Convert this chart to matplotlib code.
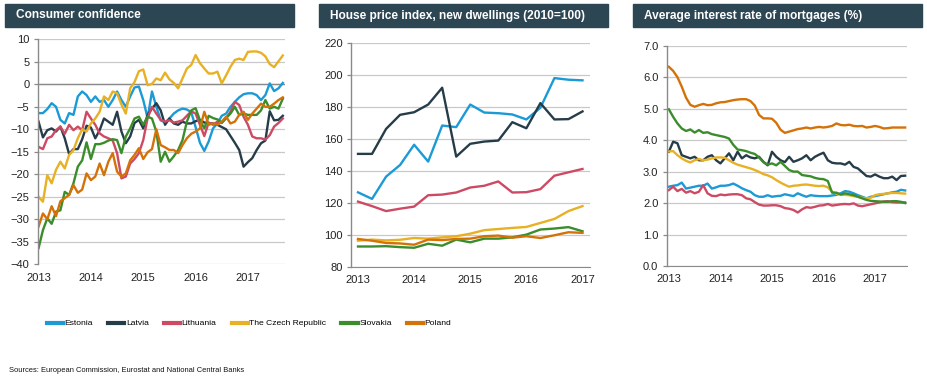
import numpy as np
import matplotlib
matplotlib.use("Agg")
import matplotlib.pyplot as plt
from matplotlib.patches import Rectangle
from matplotlib.lines import Line2D

plt.rcParams['font.family'] = ['Liberation Sans', 'DejaVu Sans']

countries = ['Estonia', 'Latvia', 'Lithuania', 'The Czech Republic', 'Slovakia', 'Poland']
colors = ['#1b9ad6', '#263d49', '#cc4a64', '#e8b023', '#3b8d2c', '#d47208']
years = ['2013', '2014', '2015', '2016', '2017']

# Consumer confidence, monthly Jan 2013 - Sep 2017
cc_estonia = [-6.4, -6.4, -5.5, -4.2, -5.0, -7.9, -8.7, -6.4, -6.8, -2.7, -1.6, -2.4, -3.9, -2.7, -3.9,
              -3.5, -5.0, -3.5, -1.6, -3.5, -5.0, -2.7, -0.7, -0.5, -3.5, -7.5, -1.6, -5.0, -8.0, -8.5,
              -7.6, -6.5, -5.8, -5.4, -5.6, -6.2, -9.5, -13.0, -14.8, -12.7, -9.8, -8.7, -7.0, -6.5,
              -5.0, -3.9, -2.9, -2.2, -2.0, -2.0, -2.4, -3.5, -2.4, 0.2, -1.5, -0.9, 0.3]
cc_latvia = [-8.3, -11.8, -10.2, -9.8, -10.5, -9.4, -12.0, -15.5, -14.4, -14.4, -12.2, -9.2, -9.6,
             -12.0, -10.2, -7.6, -8.3, -9.0, -6.1, -10.5, -13.1, -11.6, -8.6, -7.9, -9.8, -6.8, -5.4,
             -4.2, -5.8, -9.0, -7.6, -8.7, -9.0, -8.3, -8.7, -8.7, -8.2, -7.9, -8.5, -8.7, -8.7, -9.0,
             -9.5, -10.0, -11.5, -13.0, -14.6, -18.3, -17.3, -16.4, -14.6, -13.1, -12.5, -6.0, -8.0,
             -7.9, -7.0]
cc_lithuania = [-13.9, -14.4, -12.0, -11.6, -10.2, -9.4, -11.0, -9.0, -10.2, -9.4, -10.2, -6.1, -7.6,
                -9.0, -10.9, -11.6, -12.0, -12.5, -15.3, -20.9, -20.5, -17.6, -16.6, -15.3, -12.4,
                -7.5, -5.0, -6.5, -7.9, -8.3, -8.0, -8.5, -8.3, -8.0, -7.0, -6.0, -6.5, -9.0, -11.5,
                -8.5, -9.0, -8.3, -8.6, -7.5, -6.1, -3.9, -4.6, -7.2, -9.0, -11.6, -12.0, -12.0,
                -12.3, -11.3, -9.4, -8.6, -7.6]
cc_czech = [-25.0, -26.1, -20.2, -22.0, -19.0, -17.2, -18.7, -15.7, -14.6, -12.0, -10.0, -10.5, -8.7,
            -7.6, -6.1, -2.7, -3.5, -1.6, -2.0, -4.5, -6.5, -0.9, 0.5, 2.9, 3.3, -0.2, 0.1, 1.3, 0.9,
            2.6, 1.1, 0.3, -0.9, 1.3, 3.5, 4.3, 6.5, 4.7, 3.5, 2.4, 2.4, 2.8, 0.2, 2.0, 3.9, 5.4,
            5.7, 5.4, 7.2, 7.3, 7.3, 7.0, 6.2, 4.5, 3.8, 5.1, 6.4]
cc_slovakia = [-36.4, -32.4, -29.8, -31.0, -28.3, -28.0, -23.9, -24.6, -22.0, -18.3, -16.9, -12.9,
               -16.6, -13.3, -13.3, -13.0, -12.5, -12.2, -12.4, -15.3, -11.6, -9.8, -7.6, -7.2, -9.0,
               -7.2, -7.6, -10.5, -17.2, -15.0, -17.2, -16.0, -14.6, -12.4, -8.3, -5.8, -5.3, -8.0,
               -9.8, -7.0, -7.5, -7.8, -8.5, -7.5, -6.5, -5.0, -6.8, -6.5, -6.8, -6.8, -6.8, -5.8,
               -3.5, -5.4, -5.0, -5.4, -3.2]
cc_poland = [-31.6, -28.7, -30.0, -27.1, -29.3, -26.0, -25.3, -24.6, -22.4, -24.1, -23.4, -19.8, -21.3,
             -20.5, -17.6, -20.2, -17.2, -15.3, -19.4, -20.5, -19.8, -16.9, -15.7, -14.2, -16.6,
             -15.1, -14.4, -10.0, -13.5, -14.0, -14.6, -14.6, -15.3, -13.5, -12.0, -11.0, -10.5,
             -9.8, -6.1, -9.0, -8.7, -9.0, -8.3, -7.2, -8.7, -8.3, -6.8, -6.1, -7.9, -6.5, -5.4,
             -4.3, -5.0, -5.0, -4.3, -3.5, -2.9]

# House price index, new dwellings, quarterly 2013Q1 - 2017Q1
hp_estonia = [126.6, 122.5, 136.4, 143.7, 156.3, 145.8, 168.3, 167.3, 181.4, 176.4, 176.0, 175.2,
              172.1, 179.4, 197.9, 196.9, 196.5]
hp_latvia = [150.6, 150.6, 166.2, 175.0, 176.6, 181.4, 191.9, 148.9, 156.9, 158.3, 158.9, 170.4,
             166.6, 182.3, 172.1, 172.3, 177.1]
hp_lithuania = [120.8, 118.0, 114.9, 116.4, 117.7, 124.8, 125.2, 126.5, 129.6, 130.7, 133.4, 126.5,
                126.7, 128.6, 137.0, 139.1, 141.2]
hp_czech = [96.4, 97.1, 96.6, 97.0, 98.1, 97.7, 98.5, 99.2, 100.8, 103.0, 103.7, 104.4, 105.0,
            107.5, 110.0, 114.9, 118.0]
hp_slovakia = [92.8, 92.8, 93.0, 92.4, 92.0, 94.5, 93.3, 97.1, 95.4, 97.7, 97.7, 98.5, 100.2, 103.4,
               104.0, 104.9, 102.3]
hp_poland = [97.5, 96.4, 95.0, 94.7, 93.9, 97.1, 96.8, 97.5, 97.7, 99.2, 99.6, 98.3, 99.2, 98.1,
             99.8, 101.7, 101.3]

# Average interest rate of mortgages (%), monthly Jan 2013 - Aug 2017
ir_estonia = [2.52, 2.55, 2.57, 2.65, 2.46, 2.49, 2.52, 2.55, 2.55, 2.62, 2.46, 2.50, 2.55, 2.55,
              2.57, 2.62, 2.55, 2.47, 2.41, 2.36, 2.25, 2.20, 2.20, 2.25, 2.20, 2.22, 2.23, 2.28,
              2.25, 2.22, 2.31, 2.25, 2.20, 2.25, 2.23, 2.22, 2.22, 2.22, 2.24, 2.26, 2.31, 2.38,
              2.36, 2.31, 2.25, 2.20, 2.15, 2.20, 2.22, 2.25, 2.28, 2.31, 2.34, 2.36, 2.42, 2.40]
ir_latvia = [3.63, 3.95, 3.90, 3.52, 3.47, 3.42, 3.47, 3.36, 3.36, 3.47, 3.52, 3.36, 3.26, 3.42,
             3.58, 3.36, 3.63, 3.42, 3.52, 3.45, 3.42, 3.47, 3.31, 3.20, 3.63, 3.47, 3.36, 3.30,
             3.47, 3.31, 3.36, 3.42, 3.52, 3.36, 3.47, 3.54, 3.60, 3.36, 3.28, 3.26, 3.26, 3.22,
             3.31, 3.15, 3.10, 2.98, 2.86, 2.84, 2.91, 2.84, 2.79, 2.79, 2.84, 2.73, 2.86, 2.87]
ir_lithuania = [2.41, 2.52, 2.38, 2.45, 2.33, 2.38, 2.31, 2.36, 2.57, 2.31, 2.23, 2.22, 2.27, 2.25,
                2.27, 2.28, 2.28, 2.25, 2.15, 2.12, 2.03, 1.95, 1.92, 1.92, 1.93, 1.93, 1.90, 1.84,
                1.82, 1.78, 1.70, 1.80, 1.87, 1.85, 1.88, 1.92, 1.93, 1.97, 1.92, 1.94, 1.96, 1.97,
                1.96, 1.99, 1.92, 1.90, 1.93, 1.96, 1.99, 2.02, 2.05, 2.06, 2.03, 2.02, 2.02, 2.02]
ir_czech = [3.64, 3.65, 3.52, 3.42, 3.34, 3.29, 3.36, 3.40, 3.36, 3.38, 3.42, 3.45, 3.45, 3.44,
            3.36, 3.28, 3.22, 3.18, 3.14, 3.10, 3.05, 2.99, 2.92, 2.88, 2.82, 2.73, 2.65, 2.58,
            2.52, 2.55, 2.56, 2.58, 2.59, 2.57, 2.55, 2.54, 2.55, 2.50, 2.36, 2.30, 2.27, 2.26,
            2.25, 2.22, 2.20, 2.17, 2.15, 2.17, 2.25, 2.28, 2.29, 2.31, 2.32, 2.32, 2.31, 2.30]
ir_slovakia = [4.98, 4.74, 4.53, 4.37, 4.29, 4.34, 4.24, 4.32, 4.23, 4.25, 4.19, 4.16, 4.13, 4.10,
               4.05, 3.85, 3.70, 3.68, 3.65, 3.60, 3.56, 3.45, 3.30, 3.22, 3.26, 3.20, 3.31, 3.18,
               3.05, 3.00, 3.00, 2.89, 2.87, 2.85, 2.80, 2.77, 2.76, 2.70, 2.33, 2.33, 2.27, 2.31,
               2.28, 2.25, 2.20, 2.15, 2.10, 2.07, 2.06, 2.05, 2.04, 2.04, 2.06, 2.06, 2.04, 2.00]
ir_poland = [6.33, 6.20, 6.00, 5.70, 5.35, 5.12, 5.06, 5.11, 5.15, 5.11, 5.12, 5.17, 5.20, 5.21,
             5.24, 5.27, 5.29, 5.30, 5.30, 5.24, 5.10, 4.80, 4.69, 4.69, 4.68, 4.55, 4.33, 4.23,
             4.27, 4.31, 4.35, 4.37, 4.40, 4.37, 4.40, 4.42, 4.40, 4.42, 4.45, 4.53, 4.48, 4.47,
             4.49, 4.45, 4.44, 4.45, 4.40, 4.42, 4.45, 4.42, 4.37, 4.38, 4.40, 4.40, 4.40, 4.40]

panels = [
    ('Consumer confidence',
     [cc_estonia, cc_latvia, cc_lithuania, cc_czech, cc_slovakia, cc_poland]),
    ('House price index, new dwellings (2010=100)',
     [hp_estonia, hp_latvia, hp_lithuania, hp_czech, hp_slovakia, hp_poland]),
    ('Average interest rate of mortgages (%)',
     [ir_estonia, ir_latvia, ir_lithuania, ir_czech, ir_slovakia, ir_poland]),
]

W, H = 927, 381
fig = plt.figure(figsize=(W / 100, H / 100), dpi=100)


def px(x0, y0, x1, y1):
    # pixel box -> figure fraction rect
    return [x0 / W, 1 - y1 / H, (x1 - x0) / W, (y1 - y0) / H]


axes_boxes = [px(37.7, 39.3, 285, 264.3), px(351, 42.7, 589.5, 267), px(666.7, 45.7, 907.3, 266)]
bars = [(5, 294), (319, 607.7), (633.3, 922.3)]
title_bg = '#2d4654'
grid_c = '#c9c9c9'
spine_c = '#8a8a8a'

for k, ((title, series), box) in enumerate(zip(panels, axes_boxes)):
    x0, x1 = bars[k]
    fig.patches.append(Rectangle((x0 / W, 1 - 26.7 / H), (x1 - x0) / W, 22.7 / H,
                                 transform=fig.transFigure, color=title_bg, zorder=0))
    fig.text((x0 + 11) / W, 1 - 15.5 / H, title, color='white', fontsize=8.6,
             fontweight='bold', va='center', ha='left')

    ax = fig.add_axes(box)
    for vals, c in zip(series, colors):
        ax.plot(np.arange(len(vals)), vals, color=c, lw=1.7, solid_joinstyle='round')

    for s in ['top', 'right']:
        ax.spines[s].set_visible(False)
    ax.spines['left'].set_color(spine_c)
    ax.spines['left'].set_linewidth(1.0)
    ax.grid(axis='y', color=grid_c, lw=0.9)
    ax.set_axisbelow(True)
    ax.tick_params(axis='y', length=3, width=0.9, color=spine_c, pad=3, labelsize=8,
                   labelcolor='#222222')
    ax.tick_params(axis='x', length=0, pad=6, labelsize=8, labelcolor='#222222')

    if k == 0:
        ax.set_ylim(-40, 10)
        ax.set_yticks(np.arange(-40, 11, 5))
        ax.set_xlim(-0.2, 56.5)
        ax.set_xticks(np.arange(0, 49, 12))
        ax.set_xticklabels(years)
        ax.spines['bottom'].set_visible(False)
        ax.axhline(0, color=spine_c, lw=1.0, zorder=1.5)
    elif k == 1:
        ax.set_ylim(80, 220)
        ax.set_yticks(np.arange(80, 221, 20))
        ax.set_xlim(-0.5, 16.5)
        ax.set_xticks(np.arange(0, 17, 4))
        ax.set_xticklabels(years)
        ax.spines['bottom'].set_color(spine_c)
    else:
        ax.set_ylim(0, 7)
        ax.set_yticks(np.arange(0, 7.1, 1))
        ax.set_yticklabels([f'{v:.1f}' for v in np.arange(0, 7.1, 1)])
        ax.set_xlim(-0.5, 55.5)
        ax.set_xticks(np.arange(0, 49, 12))
        ax.set_xticklabels(years)
        ax.spines['bottom'].set_color(spine_c)

handles = [Line2D([], [], color=c, lw=3) for c in colors]
fig.legend(handles, countries, loc='center', bbox_to_anchor=(249 / W, 1 - 323.5 / H), ncol=6,
           frameon=False, handlelength=1.9, handletextpad=0.18, columnspacing=1.8,
           borderpad=0, prop={'size': 6.1})

fig.text(9 / W, 1 - 371 / H, 'Sources: European Commission, Eurostat and National Central Banks',
         fontsize=5.4, va='center', ha='left', color='#111111')

fig.savefig('out.png', dpi=100)
